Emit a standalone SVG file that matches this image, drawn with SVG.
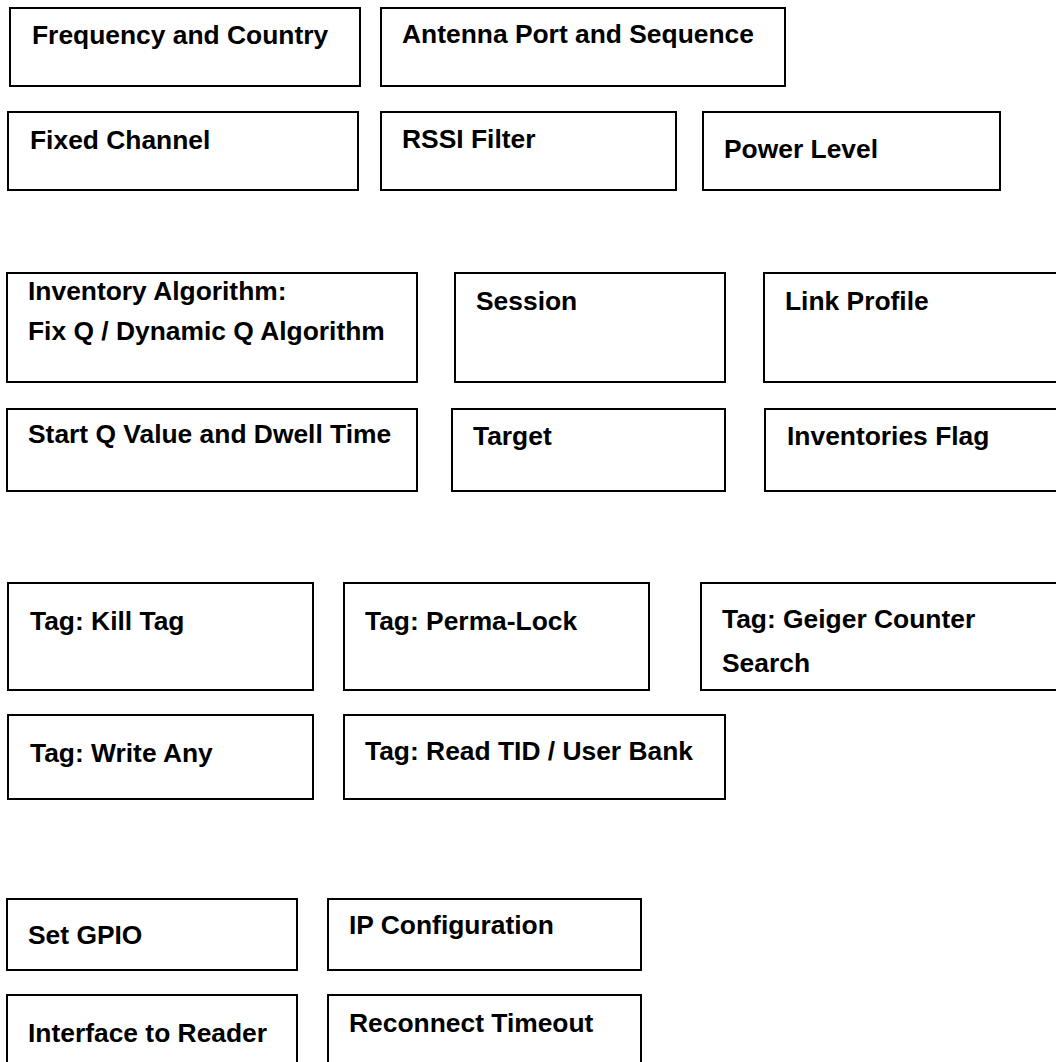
<svg xmlns="http://www.w3.org/2000/svg" width="1056" height="1062" viewBox="0 0 1056 1062">
<style>
.box{fill:#fff;stroke:#000;stroke-width:2}
.t{font-family:"Liberation Sans",Arial,sans-serif;font-weight:bold;font-size:26.4px;fill:#000}
</style>
<rect width="1056" height="1062" fill="#fff"/>
<g id="connectors"></g>
<g id="n-frequency"><rect class="box" x="10" y="8" width="350" height="78"/><text class="t" x="32" y="44">Frequency and Country</text></g>
<g id="n-antenna"><rect class="box" x="381" y="8" width="404" height="78"/><text class="t" x="402" y="43">Antenna Port and Sequence</text></g>
<g id="n-fixed"><rect class="box" x="8" y="112" width="350" height="78"/><text class="t" x="30" y="149">Fixed Channel</text></g>
<g id="n-rssi"><rect class="box" x="381" y="112" width="295" height="78"/><text class="t" x="402" y="148">RSSI Filter</text></g>
<g id="n-power"><rect class="box" x="703" y="112" width="297" height="78"/><text class="t" x="724" y="158">Power Level</text></g>
<g id="n-inventory"><rect class="box" x="7" y="273" width="410" height="109"/><text class="t" x="28" y="300">Inventory Algorithm:</text><text class="t" x="28" y="340">Fix Q / Dynamic Q Algorithm</text></g>
<g id="n-session"><rect class="box" x="455" y="273" width="270" height="109"/><text class="t" x="476" y="310">Session</text></g>
<g id="n-link"><rect class="box" x="764" y="273" width="300" height="109"/><text class="t" x="785" y="310">Link Profile</text></g>
<g id="n-startq"><rect class="box" x="7" y="409" width="410" height="82"/><text class="t" x="28" y="443">Start Q Value and Dwell Time</text></g>
<g id="n-target"><rect class="box" x="452" y="409" width="273" height="82"/><text class="t" x="473" y="445">Target</text></g>
<g id="n-invflag"><rect class="box" x="765" y="409" width="300" height="82"/><text class="t" x="787" y="445">Inventories Flag</text></g>
<g id="n-kill"><rect class="box" x="8" y="583" width="305" height="107"/><text class="t" x="30" y="630">Tag: Kill Tag</text></g>
<g id="n-perma"><rect class="box" x="344" y="583" width="305" height="107"/><text class="t" x="365" y="630">Tag: Perma-Lock</text></g>
<g id="n-geiger"><rect class="box" x="701" y="583" width="365" height="107"/><text class="t" x="722" y="628">Tag: Geiger Counter</text><text class="t" x="722" y="672">Search</text></g>
<g id="n-write"><rect class="box" x="8" y="715" width="305" height="84"/><text class="t" x="30" y="762">Tag: Write Any</text></g>
<g id="n-readtid"><rect class="box" x="344" y="715" width="381" height="84"/><text class="t" x="365" y="760">Tag: Read TID / User Bank</text></g>
<g id="n-gpio"><rect class="box" x="7" y="899" width="290" height="71"/><text class="t" x="28" y="944">Set GPIO</text></g>
<g id="n-ip"><rect class="box" x="328" y="899" width="313" height="71"/><text class="t" x="349" y="934">IP Configuration</text></g>
<g id="n-interface"><rect class="box" x="7" y="995" width="290" height="80"/><text class="t" x="28" y="1042">Interface to Reader</text></g>
<g id="n-reconnect"><rect class="box" x="328" y="995" width="313" height="80"/><text class="t" x="349" y="1032">Reconnect Timeout</text></g>
</svg>
